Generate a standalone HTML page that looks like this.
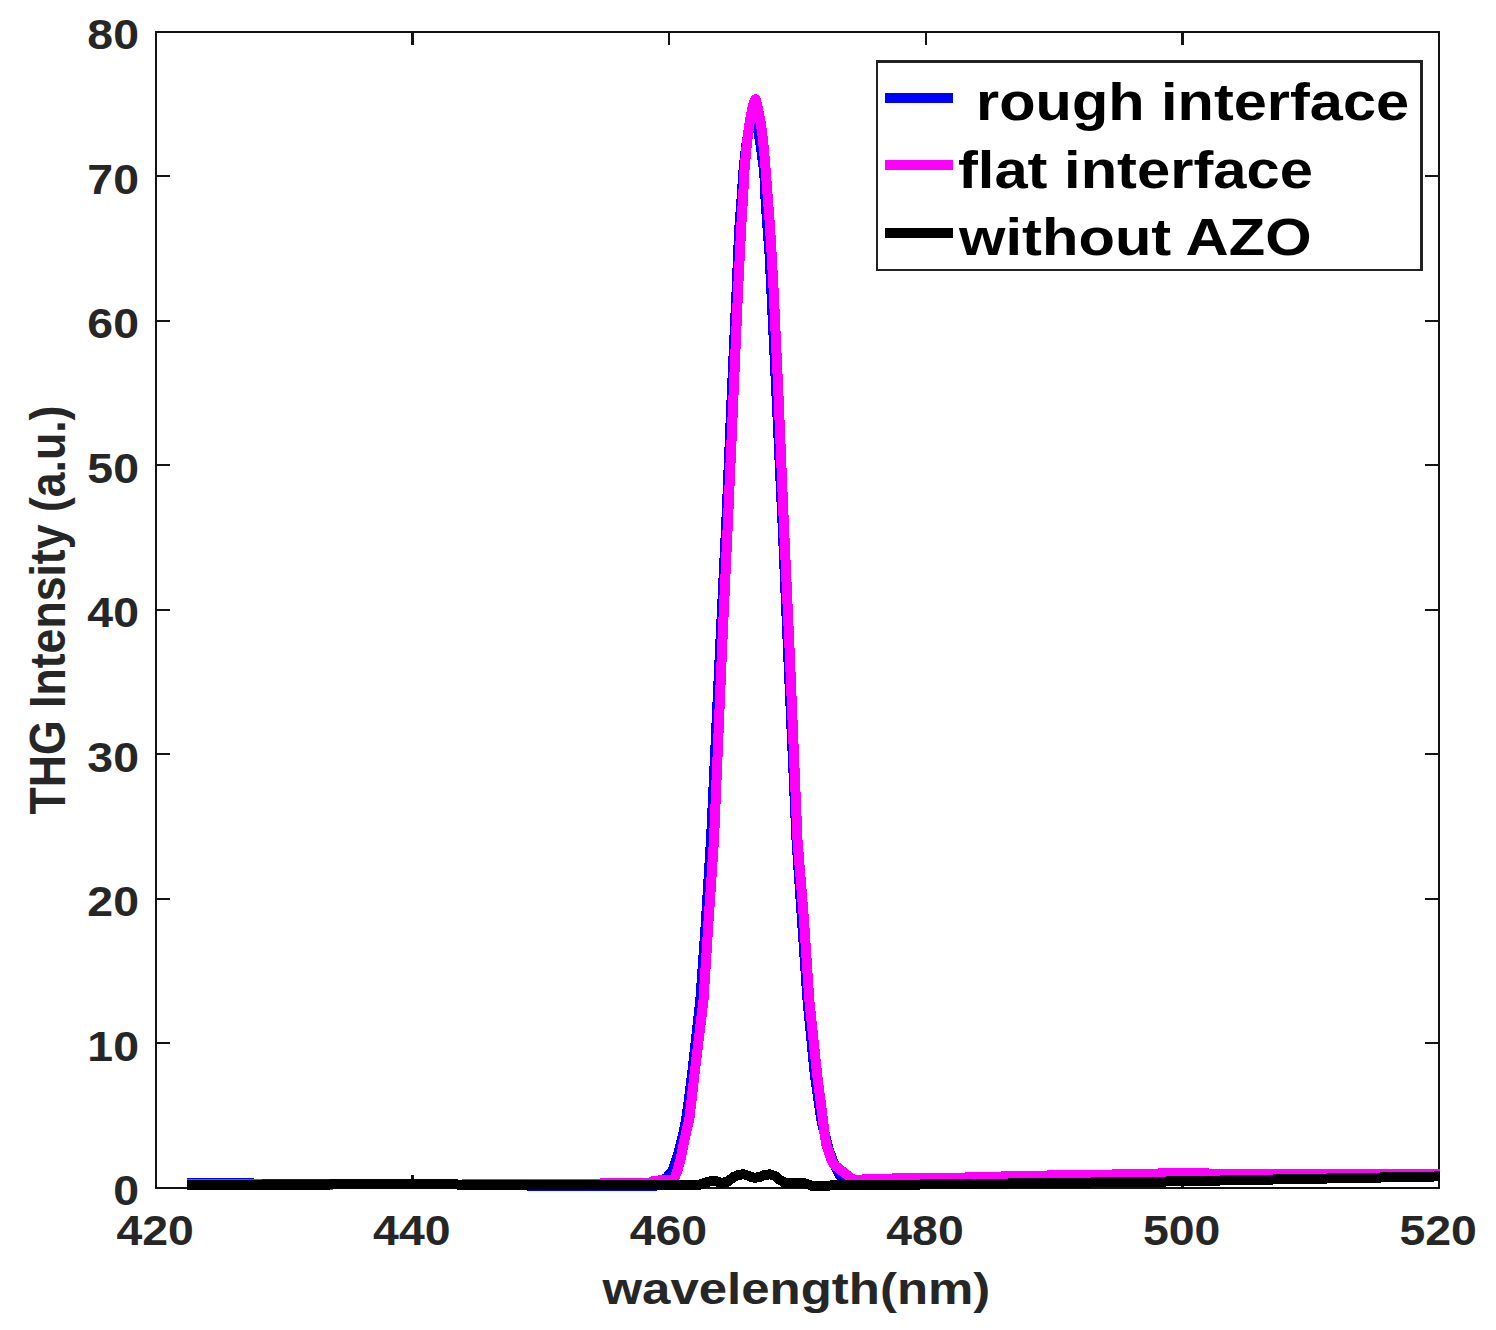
<!DOCTYPE html><html><head><meta charset="utf-8"><title>THG Intensity</title><style>html,body{margin:0;padding:0;background:#fff;width:1496px;height:1330px;overflow:hidden}svg{display:block}text{font-family:"Liberation Sans",sans-serif;font-weight:bold}</style></head><body>
<svg width="1496" height="1330" viewBox="0 0 1496 1330">
<rect x="0" y="0" width="1496" height="1330" fill="#fff"/>
<defs><clipPath id="cp"><rect x="155.0" y="31.0" width="1285.0" height="1162.0"/></clipPath></defs>
<g fill="#121212" shape-rendering="crispEdges">
<rect x="155" y="31" width="2" height="1158"/>
<rect x="1438" y="31" width="2" height="1158"/>
<rect x="155" y="31" width="1285" height="2"/>
<rect x="155" y="1187" width="1285" height="2"/>
</g>
<g fill="#141414" shape-rendering="crispEdges">
<rect x="157" y="1042" width="13" height="2"/>
<rect x="1425" y="1042" width="13" height="2"/>
<rect x="157" y="898" width="13" height="2"/>
<rect x="1425" y="898" width="13" height="2"/>
<rect x="157" y="753" width="13" height="2"/>
<rect x="1425" y="753" width="13" height="2"/>
<rect x="157" y="609" width="13" height="2"/>
<rect x="1425" y="609" width="13" height="2"/>
<rect x="157" y="464" width="13" height="2"/>
<rect x="1425" y="464" width="13" height="2"/>
<rect x="157" y="320" width="13" height="2"/>
<rect x="1425" y="320" width="13" height="2"/>
<rect x="157" y="175" width="13" height="2"/>
<rect x="1425" y="175" width="13" height="2"/>
<rect x="411" y="33" width="3" height="12"/>
<rect x="411" y="1175" width="3" height="12"/>
<rect x="668" y="33" width="2" height="12"/>
<rect x="668" y="1175" width="2" height="12"/>
<rect x="925" y="33" width="2" height="12"/>
<rect x="925" y="1175" width="2" height="12"/>
<rect x="1181" y="33" width="3" height="12"/>
<rect x="1181" y="1175" width="3" height="12"/>
</g>
<g clip-path="url(#cp)" fill="none" stroke-width="10.0" stroke-linejoin="round" stroke-linecap="butt" shape-rendering="crispEdges">
<polyline stroke="#0000ff" points="187.0,1182.8 251.0,1182.8 254.0,1183.8 333.0,1183.8 336.0,1183.9 455.0,1183.9 458.0,1184.6 524.0,1184.6 528.0,1185.6 638.0,1185.6 641.0,1186.5 654.0,1186.3 660.0,1182.0 666.8,1177.7 673.2,1169.4 676.5,1159.0 679.7,1148.4 682.9,1135.6 685.4,1122.8 687.3,1111.3 692.2,1073.3 700.3,1000.0 706.0,920.0 711.0,840.0 720.0,650.0 726.4,520.0 731.5,400.0 736.8,285.5 738.0,255.4 739.5,225.3 741.8,195.3 743.3,172.7 745.0,155.0 747.0,140.0 749.5,125.0 752.0,112.0 754.0,106.0 756.0,112.0 757.5,126.0 759.0,135.1 761.3,150.2 764.3,172.7 765.3,195.3 767.3,225.3 769.6,255.4 771.1,285.5 776.7,400.0 782.4,520.0 788.0,650.0 796.5,840.0 802.0,920.0 807.5,1000.0 814.6,1073.0 821.3,1120.0 826.5,1141.0 829.0,1150.0 832.5,1160.0 835.0,1166.0 840.5,1176.4 845.5,1183.5 860.0,1184.5 1445.0,1175.5"/>
<polyline stroke="#ff00ff" points="187.0,1184.0 258.0,1184.0 262.0,1184.5 333.0,1184.5 336.0,1183.9 455.0,1183.9 458.0,1184.6 462.0,1184.6 464.0,1184.0 600.0,1184.0 602.0,1183.0 651.0,1183.0 653.0,1180.9 658.0,1180.9 660.0,1179.9 674.0,1179.9 677.5,1170.0 680.9,1158.0 682.8,1148.4 685.4,1135.6 688.4,1122.8 689.7,1116.4 694.6,1073.3 703.5,1000.0 708.6,920.0 714.0,840.0 722.0,650.0 728.0,520.0 733.3,400.0 738.3,285.5 739.8,255.4 741.3,225.3 743.2,195.3 744.3,172.7 746.2,150.2 747.9,135.1 750.0,120.0 753.0,105.0 755.5,99.2 757.3,105.0 760.3,120.0 762.4,135.1 764.0,150.2 765.9,172.7 767.6,195.3 769.9,225.3 771.7,255.4 773.4,285.5 778.7,400.0 783.7,520.0 789.6,650.0 797.5,840.0 804.0,920.0 809.3,1000.0 817.0,1073.3 823.0,1120.0 824.7,1135.0 826.3,1145.0 828.9,1152.0 831.5,1160.0 833.6,1164.4 853.4,1179.9 863.0,1179.9 864.0,1178.9 965.0,1177.5 1020.0,1176.0 1075.0,1175.0 1150.0,1174.0 1173.0,1172.6 1206.0,1172.6 1210.0,1174.0 1445.0,1174.0"/>
<polyline stroke="#000000" points="187.0,1184.5 330.0,1184.5 336.0,1183.9 455.0,1183.9 458.0,1184.6 680.0,1184.5 700.0,1184.6 705.0,1182.7 710.0,1181.3 716.0,1181.2 722.0,1182.9 728.0,1181.5 733.0,1177.3 738.0,1175.1 742.0,1174.4 745.0,1174.5 750.0,1176.5 755.0,1177.9 760.0,1176.8 764.0,1175.0 770.0,1174.3 775.0,1176.0 780.0,1179.9 785.0,1182.8 792.0,1182.8 800.0,1182.5 806.0,1183.6 812.0,1185.8 822.0,1185.7 835.0,1185.4 860.0,1185.2 1000.0,1183.6 1150.0,1181.8 1290.0,1179.2 1445.0,1176.3"/>
</g>
<text x="0" y="0" font-size="42.4" fill="#262626" text-anchor="end" transform="translate(139,1205.4) scale(1.095,1)">0</text>
<text x="0" y="0" font-size="42.4" fill="#262626" text-anchor="end" transform="translate(139,1060.9) scale(1.095,1)">10</text>
<text x="0" y="0" font-size="42.4" fill="#262626" text-anchor="end" transform="translate(139,916.4) scale(1.095,1)">20</text>
<text x="0" y="0" font-size="42.4" fill="#262626" text-anchor="end" transform="translate(139,771.9) scale(1.095,1)">30</text>
<text x="0" y="0" font-size="42.4" fill="#262626" text-anchor="end" transform="translate(139,627.4) scale(1.095,1)">40</text>
<text x="0" y="0" font-size="42.4" fill="#262626" text-anchor="end" transform="translate(139,482.9) scale(1.095,1)">50</text>
<text x="0" y="0" font-size="42.4" fill="#262626" text-anchor="end" transform="translate(139,338.4) scale(1.095,1)">60</text>
<text x="0" y="0" font-size="42.4" fill="#262626" text-anchor="end" transform="translate(139,193.9) scale(1.095,1)">70</text>
<text x="0" y="0" font-size="42.4" fill="#262626" text-anchor="end" transform="translate(139,49.4) scale(1.095,1)">80</text>
<text x="0" y="0" font-size="42.4" fill="#262626" text-anchor="middle" transform="translate(155.2,1245.2) scale(1.095,1)">420</text>
<text x="0" y="0" font-size="42.4" fill="#262626" text-anchor="middle" transform="translate(411.8,1245.2) scale(1.095,1)">440</text>
<text x="0" y="0" font-size="42.4" fill="#262626" text-anchor="middle" transform="translate(668.4,1245.2) scale(1.095,1)">460</text>
<text x="0" y="0" font-size="42.4" fill="#262626" text-anchor="middle" transform="translate(925.0,1245.2) scale(1.095,1)">480</text>
<text x="0" y="0" font-size="42.4" fill="#262626" text-anchor="middle" transform="translate(1181.6,1245.2) scale(1.095,1)">500</text>
<text x="0" y="0" font-size="42.4" fill="#262626" text-anchor="middle" transform="translate(1438.2,1245.2) scale(1.095,1)">520</text>
<text x="0" y="0" font-size="44.55" fill="#262626" transform="translate(602.4,1304.2) scale(1.1443,1)">wavelength(nm)</text>
<text x="0" y="0" font-size="44.62" fill="#262626" transform="translate(64.5,814.5) rotate(-90) scale(1,1.123)">THG Intensity (a.u.)</text>
<rect x="877" y="61" width="545" height="209" fill="#fff"/>
<g fill="#222222" shape-rendering="crispEdges">
<rect x="876" y="60" width="547" height="3"/>
<rect x="876" y="269" width="547" height="2"/>
<rect x="876" y="60" width="2" height="211"/>
<rect x="1420" y="60" width="3" height="211"/>
</g>
<g shape-rendering="crispEdges"><rect x="885" y="93" width="68" height="10" fill="#0000ff"/>
<rect x="885" y="160" width="68" height="10" fill="#ff00ff"/>
<rect x="885" y="228" width="68" height="10" fill="#000000"/></g>
<text x="0" y="0" font-size="52" fill="#000" transform="translate(976.07,120.2) scale(1.1443,1)">rough interface</text>
<text x="0" y="0" font-size="52" fill="#000" transform="translate(957.93,188.0) scale(1.1482,1)">flat interface</text>
<text x="0" y="0" font-size="52" fill="#000" transform="translate(959.12,254.8) scale(1.1477,1)">without AZO</text>
</svg></body></html>
